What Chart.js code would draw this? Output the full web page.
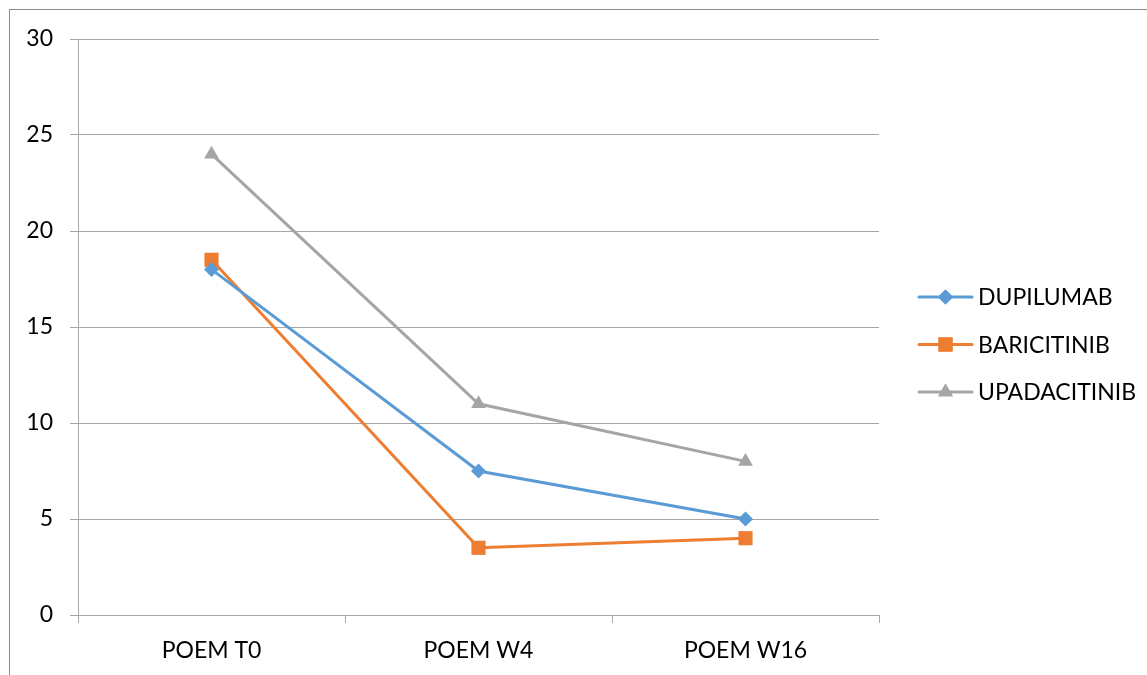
<!DOCTYPE html>
<html>
<head>
<meta charset="utf-8">
<script src="https://cdn.jsdelivr.net/npm/chart.js@4.4.0/dist/chart.umd.min.js"></script>
<style>
  body { margin: 0; background: #fff; overflow: hidden; }
  #frame { position: absolute; left: 9px; top: 9px; width: 1200px; height: 700px;
           border-top: 1px solid #8c8c8c; border-left: 1px solid #8c8c8c; }
  canvas { position: absolute; left: 0; top: 0; }
</style>
</head>
<body>
<div id="frame"></div>
<canvas id="poemChart" width="1147" height="675"></canvas>
<script>
// chart data
var categories = ["POEM T0", "POEM W4", "POEM W16"];
var dupilumab = [18, 7.5, 5];
var baricitinib = [18.5, 3.5, 4];
var upadacitinib = [24, 11, 8];
var seriesNames = ["DUPILUMAB", "BARICITINIB", "UPADACITINIB"];
var seriesColors = ["#5b9bd5", "#ed7d31", "#a5a5a5"];
var seriesMarkers = ["rectRot", "rect", "triangle"];
var markerSizes = [7.5, 10, 8.5];

var fontFamily = "Lato, 'Open Sans', sans-serif";
var gridColor = "#a6a6a6";

// legend drawn by hand, so each entry is a line with the marker on it
var sideLegend = {
    id: "sideLegend",
    afterDraw: function(chart) {
        var ctx = chart.ctx;
        var x0 = 919, x1 = 972;
        var y0 = 297, step = 47.5;
        ctx.save();
        for (var i = 0; i < seriesNames.length; i++) {
            var y = y0 + i * step;
            ctx.strokeStyle = seriesColors[i];
            ctx.lineWidth = 3;
            ctx.lineCap = "round";
            ctx.beginPath();
            ctx.moveTo(x0, y);
            ctx.lineTo(x1, y);
            ctx.stroke();
            ctx.fillStyle = seriesColors[i];
            Chart.helpers.drawPoint(ctx, {
                pointStyle: seriesMarkers[i],
                radius: markerSizes[i],
                borderWidth: 0
            }, (x0 + x1) / 2, y);
            ctx.fill();
            ctx.fillStyle = "#000";
            ctx.font = "23px " + fontFamily;
            ctx.textBaseline = "middle";
            ctx.textAlign = "left";
            ctx.fillText(seriesNames[i], 978, y + 1);
        }
        ctx.restore();
    }
};

function makeSet(label, values, i) {
    return {
        label: label,
        data: values,
        borderColor: seriesColors[i],
        backgroundColor: seriesColors[i],
        borderWidth: 3,
        pointStyle: seriesMarkers[i],
        pointRadius: markerSizes[i],
        pointHoverRadius: markerSizes[i],
        pointBorderWidth: 0,
        tension: 0
    };
}

var ctx = document.getElementById("poemChart");
var myChart = new Chart(ctx, {
    type: "line",
    data: {
        labels: categories,
        datasets: [
            makeSet(seriesNames[0], dupilumab, 0),
            makeSet(seriesNames[1], baricitinib, 1),
            makeSet(seriesNames[2], upadacitinib, 2)
        ]
    },
    options: {
        responsive: false,
        animation: false,
        layout: { padding: { top: 39, right: 268, left: 0, bottom: 0 } },
        plugins: {
            legend: { display: false },
            tooltip: { enabled: false }
        },
        scales: {
            x: {
                offset: true,
                grid: {
                    offset: true,
                    drawOnChartArea: false,
                    drawTicks: true,
                    tickLength: 8,
                    color: gridColor
                },
                border: { color: gridColor },
                ticks: {
                    color: "#000",
                    padding: 14,
                    font: { family: fontFamily, size: 23 }
                },
                afterFit: function(scale) { scale.height = 60; }
            },
            y: {
                min: 0,
                max: 30,
                ticks: {
                    stepSize: 5,
                    color: "#000",
                    padding: 17,
                    font: { family: fontFamily, size: 23 }
                },
                grid: {
                    color: gridColor,
                    tickLength: 8
                },
                border: { color: gridColor },
                afterFit: function(scale) { scale.width = 78; }
            }
        }
    },
    plugins: [sideLegend]
});
</script>
</body>
</html>
